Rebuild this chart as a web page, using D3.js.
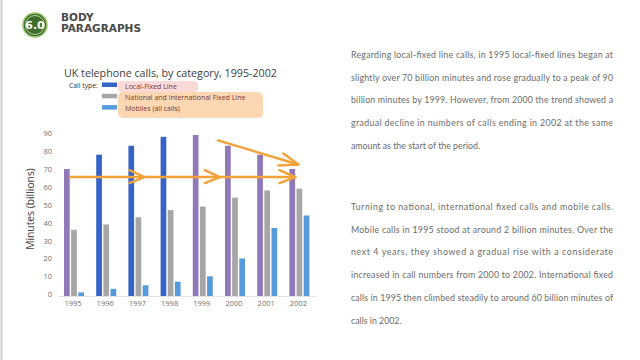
<!DOCTYPE html>
<html><head><meta charset="utf-8">
<script src="https://cdn.jsdelivr.net/npm/d3@7/dist/d3.min.js"></script>
<style>html,body{margin:0;padding:0;background:#fff;}svg{display:block;}</style>
</head><body>
<svg id="c" width="640" height="360"></svg>
<script>
const years = ["1995","1996","1997","1998","1999","2000","2001","2002"];
const seriesNames = ["Local-Fixed Line","National and International Fixed Line","Mobiles (all calls)"];
const localFixed = [71, 79, 84, 89, 90, 84, 79, 71];
const nationalIntl = [37, 40, 44, 48, 50, 55, 59, 60];
const mobiles = [2, 4, 6, 8, 11, 21, 38, 45];
const highlightYears = ["1995","1999","2000","2001","2002"];
const yTicks = [0,10,20,30,40,50,60,70,80,90];
const para1 = [
 "Regarding local-fixed line calls, in 1995 local-fixed lines began at",
 "slightly over 70 billion minutes and rose gradually to a peak of 90",
 "billion minutes by 1999. However, from 2000 the trend showed a",
 "gradual decline in numbers of calls ending in 2002 at the same",
 "amount as the start of the period."];
const para2 = [
 "Turning to national, international fixed calls and mobile calls.",
 "Mobile calls in 1995 stood at around 2 billion minutes. Over the",
 "next 4 years, they showed a gradual rise with a considerate",
 "increased in call numbers from 2000 to 2002. International fixed",
 "calls in 1995 then climbed steadily to around 60 billion minutes of",
 "calls in 2002."];

const svg = d3.select("#c");
const values = [localFixed, nationalIntl, mobiles];
const colors = ["#3563c6","#a6a6a6","#559ada"];
const purple = "#9179b9";

// frame
svg.append("line").attr("x1",1.5).attr("x2",1.5).attr("y1",0).attr("y2",360).attr("stroke","#cfcfcf").attr("stroke-width",2);

// logo
svg.append("circle").attr("cx",35).attr("cy",25).attr("r",12).attr("fill","#3e6d2a").attr("stroke","#9cc46c").attr("stroke-width",1.5);
svg.append("circle").attr("cx",35).attr("cy",25).attr("r",9.5).attr("fill","none").attr("stroke","#d8e8c0").attr("stroke-width",0.8);
svg.append("text").attr("x",35).attr("y",29).attr("text-anchor","middle").attr("font-family","DejaVu Sans").attr("font-weight","bold").attr("font-size",11).attr("fill","#fff").text("6.0");
svg.append("text").attr("x",61).attr("y",21).attr("font-family","DejaVu Sans").attr("font-weight","bold").attr("font-size",10.5).attr("fill","#4a4a4a").text("BODY");
svg.append("text").attr("x",61).attr("y",32).attr("font-family","DejaVu Sans").attr("font-weight","bold").attr("font-size",10.5).attr("fill","#4a4a4a").text("PARAGRAPHS");

// title
svg.append("text").attr("x",64).attr("y",77).attr("font-family","Open Sans").attr("font-size",10.7).attr("fill","#404040").text("UK telephone calls, by category, 1995-2002");

// legend
svg.append("rect").attr("x",118).attr("y",81).attr("width",80).attr("height",11).attr("rx",4).attr("fill","#fbd9d6");
svg.append("rect").attr("x",118).attr("y",92).attr("width",145).attr("height",26).attr("rx",5).attr("fill","#fcd7b2");
svg.append("text").attr("x",69).attr("y",87.5).attr("font-family","Open Sans").attr("font-size",6.8).attr("fill","#333").text("Call type:");
seriesNames.forEach((n,i)=>{
  const yy = 82.5 + i*11.3;
  svg.append("rect").attr("x",102).attr("y",yy).attr("width",15).attr("height",4.5).attr("fill",colors[i]);
  svg.append("text").attr("x",125).attr("y",yy+6).attr("font-family","Open Sans").attr("font-size",7).attr("fill","#7a3a30").text(n);
});

// scales
const x = d3.scaleBand().domain(years).range([47.9,325.5]).paddingInner(0.379).paddingOuter(0.5);
const xi = d3.scaleBand().domain([0,1,2]).range([0,x.bandwidth()]).paddingInner(0.2);
const y = d3.scaleLinear().domain([0,90]).range([296,135]);

// baseline
svg.append("line").attr("x1",58).attr("x2",316).attr("y1",y(0)+0.5).attr("y2",y(0)+0.5).attr("stroke","#e3e3e3");

// y axis
const ya = svg.append("g").attr("transform","translate(52,0)").call(d3.axisLeft(y).tickValues(yTicks).tickSize(0).tickPadding(0));
ya.select(".domain").remove();
ya.selectAll("text").attr("font-family","Open Sans").attr("font-size",7.5).attr("fill","#6f6f6f").attr("dy","0.1em");

// x axis
const xa = svg.append("g").attr("transform",`translate(-1,${y(0)})`).call(d3.axisBottom(x).tickSize(0).tickPadding(5));
xa.select(".domain").remove();
xa.selectAll("text").attr("font-family","Open Sans").attr("font-size",7.5).attr("fill","#6f6f6f");

svg.append("text").attr("transform","translate(34,209) rotate(-90)").attr("text-anchor","middle").attr("font-family","Open Sans").attr("font-size",10.3).attr("fill","#404040").text("Minutes (billions)");

// bars
values.forEach((vals,si)=>{
  svg.append("g").selectAll("rect").data(years).join("rect")
    .attr("x",(d)=>x(d)+xi(si))
    .attr("y",(d,i)=>y(vals[i]))
    .attr("width",xi.bandwidth())
    .attr("height",(d,i)=>y(0)-y(vals[i]))
    .attr("fill",(d)=> si===0 && highlightYears.includes(d) ? purple : colors[si]);
});

// annotation arrows
const orange = "#f3a23a";
const ag = svg.append("g").attr("fill","none").attr("stroke",orange).attr("stroke-width",2.4).attr("stroke-linecap","round").attr("stroke-linejoin","round");
const hy = y(66.5);
ag.append("line").attr("x1",x("1995")+6).attr("x2",x("2002")+6).attr("y1",hy).attr("y2",hy);
function chevron(tx,ty,dx,dy1,dy2){
  ag.append("path").attr("d",`M${tx-dx},${ty-dy1}L${tx},${ty}L${tx-dx},${ty+dy2}`);
}
chevron(x("1997")+16, hy, 15, 7, 6);
chevron(x("1999")+27, hy, 15, 7, 6);
chevron(x("2002")+6, hy, 16, 7, 6);
const sx1 = x("2000")-7, sy1 = y(87), sx2 = x("2002")+9, sy2 = y(73.5);
ag.append("line").attr("x1",sx1).attr("y1",sy1).attr("x2",sx2).attr("y2",sy2);
ag.append("path").attr("d",`M${sx2-15},${sy2-11}L${sx2},${sy2}L${sx2-20},${sy2+1}`);

// paragraphs
function para(lines, x0, y0, width){
  lines.forEach((l,i)=>{
    const t = svg.append("text").attr("x",x0).attr("y",y0+i*22.7).attr("font-family","Lato").attr("font-size",8.8).attr("fill","#6b6b6b").text(l);
    if(i<lines.length-1) t.attr("textLength",width).attr("lengthAdjust","spacing");
  });
}
para(para1, 351, 58, 262);
para(para2, 351, 210, 262);
</script>
</body></html>
